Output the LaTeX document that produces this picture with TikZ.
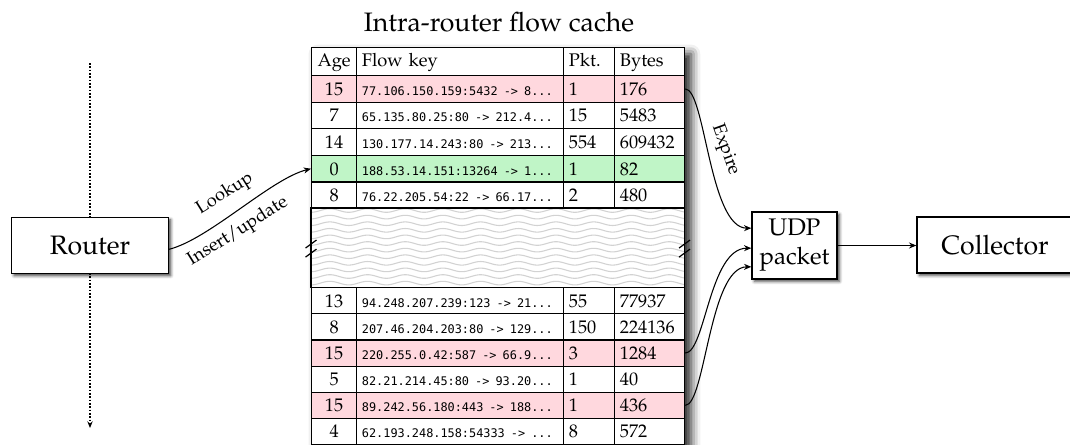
\documentclass[tikz,border=0pt]{standalone}
\usepackage[T1]{fontenc}
\usepackage{mathpazo}
\usetikzlibrary{arrows.meta,shadows.blur}

\definecolor{expiredrow}{RGB}{255,216,222}
\definecolor{hitrow}{RGB}{192,245,199}
\definecolor{wavegray}{RGB}{210,210,210}

% monospaced flow keys: size chosen so that one character is 5.36pt wide
\font\keyprobe="DejaVu Sans Mono" at 10pt
\newlength\keycharwd
\settowidth\keycharwd{\keyprobe 0}
\pgfmathsetmacro\keysize{10*5.36/\keycharwd}
\font\keyfnt="DejaVu Sans Mono" at \keysize pt
\newcommand\titlefont{\fontsize{20}{24}\selectfont}
\newcommand\udpfont{\fontsize{18}{21.75}\selectfont}
\newcommand\cellfont{\fontsize{13.7}{16}\selectfont}
\newcommand\keyfont{\keyfnt}

\tikzset{
  box/.style={draw, line width=1pt, fill=white, inner sep=0pt,
    blur shadow={shadow xshift=1.8pt, shadow yshift=-1.8pt, shadow blur radius=2.2pt, shadow opacity=75}},
  tablebg/.style={fill=white, inner sep=0pt,
    blur shadow={shadow xshift=5pt, shadow yshift=-5pt, shadow blur radius=7pt, shadow opacity=90}},
  conn/.style={line width=0.8pt, -{Stealth[length=5.5pt,width=4.5pt]}},
  flowline/.style={line width=1.2pt, dash pattern=on 1.2pt off 1.3pt, -{Stealth[length=5pt,width=4pt]}},
  tableline/.style={line width=0.9pt},
  breakmark/.style={line width=0.9pt},
  wave/.style={wavegray, line width=0.8pt},
  labeltext/.style={font=\cellfont, inner sep=1pt},
  cell/.style={draw, line width=0.9pt, inner xsep=4pt, inner ysep=0pt,
    text height=9.6pt, text depth=0pt, font=\cellfont},
  headcell/.style={text depth=2.6pt},
  agecell/.style={cell, minimum width=33.75pt, text width=25.75pt, align=center},
  keycell/.style={cell, minimum width=155.25pt, text width=147.25pt, align=left},
  pktcell/.style={cell, minimum width=38.25pt, text width=30.25pt, align=left},
  bytecell/.style={cell, minimum width=52.5pt, text width=44.5pt, align=left},
}

% one cache entry: name, top, height, fill, age, key, packets, bytes
\newcommand\flowrow[8]{%
  \node[agecell, minimum height=#3, fill=#4, anchor=north west] (#1-age) at (311,#2) {#5};
  \node[keycell, minimum height=#3, fill=#4, anchor=north west] (#1-key) at (356,#2) {\mbox{\keyfont #6}};
  \node[pktcell, minimum height=#3, fill=#4, anchor=north west] (#1-pkt) at (563,#2) {#7};
  \node[bytecell, minimum height=#3, fill=#4, anchor=north west] (#1-bytes) at (614,#2) {#8};
}

\begin{document}
\begin{tikzpicture}[x=0.75pt, y=-0.75pt]
\useasboundingbox (0,0) rectangle (1070,444);

% title of the cache
\node[font=\titlefont, anchor=base, inner sep=0pt] (title) at (499,31) {Intra-router flow cache};

% traffic passing through the router
\coordinate (flowtop) at (90,63);
\coordinate (flowbot) at (90,428);
\draw[flowline] (flowtop) -- (flowbot);
\node[box, minimum width=117.5pt, minimum height=42pt, font=\titlefont] (router) at (90,245.3) {Router};

% the cache table
\node[tablebg, minimum width=279.75pt, minimum height=297.75pt, anchor=north west] (cache) at (311,47) {};

\node[agecell, headcell, minimum height=21pt, anchor=north west] (head-age) at (311,47) {Age};
\node[keycell, headcell, minimum height=21pt, anchor=north west] (head-key) at (356,47) {Flow key};
\node[pktcell, headcell, minimum height=21pt, anchor=north west] (head-pkt) at (563,47) {Pkt.};
\node[bytecell, headcell, minimum height=21pt, anchor=north west] (head-bytes) at (614,47) {Bytes};

\flowrow{r1}{75}{19.95pt}{expiredrow}{15}{77.106.150.159:5432 -> 8...}{1}{176}
\flowrow{r2}{101.6}{19.95pt}{white}{7}{65.135.80.25:80 -> 212.4...}{15}{5483}
\flowrow{r3}{128.2}{19.95pt}{white}{14}{130.177.14.243:80 -> 213...}{554}{609432}
\flowrow{r4}{154.8}{19.95pt}{hitrow}{0}{188.53.14.151:13264 -> 1...}{1}{82}
\flowrow{r5}{181.4}{19.95pt}{white}{8}{76.22.205.54:22 -> 66.17...}{2}{480}

% elided part of the table
\node[inner sep=0pt, minimum width=279.75pt, minimum height=59.25pt, anchor=north west] (gap) at (311,208) {};
\begin{scope}
  \clip (gap.north west) rectangle (gap.south east);
  \foreach \k in {0,...,12}
    \draw[wave] plot[domain=300:700, samples=180, smooth] (\x, {210.5 + \k*6.6 + 1.8*sin(\x*9.55)});
\end{scope}
\draw[tableline] (gap.north west) rectangle (gap.south east);

\flowrow{r6}{287}{19.63pt}{white}{13}{94.248.207.239:123 -> 21...}{55}{77937}
\flowrow{r7}{313.17}{19.63pt}{white}{8}{207.46.204.203:80 -> 129...}{150}{224136}
\flowrow{r8}{339.34}{19.63pt}{expiredrow}{15}{220.255.0.42:587 -> 66.9...}{3}{1284}
\flowrow{r9}{365.51}{19.63pt}{white}{5}{82.21.214.45:80 -> 93.20...}{1}{40}
\flowrow{r10}{391.68}{19.63pt}{expiredrow}{15}{89.242.56.180:443 -> 188...}{1}{436}
\flowrow{r11}{417.85}{19.63pt}{white}{4}{62.193.248.158:54333 -> ...}{8}{572}

% break marks on both sides of the elided part
\foreach \s in {2.8pt,-4pt} {
  \draw[breakmark] ([yshift=\s]gap.west) +(-4.1pt,-3pt) -- +(4.1pt,3pt);
  \draw[breakmark] ([yshift=\s]gap.east) +(-4.1pt,-3pt) -- +(4.1pt,3pt);
}

% export side
\node[box, minimum width=63.75pt, minimum height=50.25pt, font=\udpfont, align=center] (udp) at (794.5,245.5) {UDP\\packet};
\node[box, minimum width=117pt, minimum height=42pt, font=\titlefont] (collector) at (995,245) {Collector};

% lookup / update of the matching entry
\draw[conn] ([yshift=-3pt]router.east) .. controls +(40,-10) and +(-40,10) .. (r4-age.west);
\node[labeltext, rotate=32] (lookup) at (225,194) {Lookup};
\node[labeltext, rotate=32] (insert) at (238,232) {Insert/update};

% expired entries go into the export packet
\draw[conn] (r1-bytes.east) .. controls +(20,0) and +(-42,0) .. ([yshift=13pt]udp.west);
\node[labeltext, rotate=-70] (expire) at (725,150) {Expire};
\draw[conn] (r8-bytes.east) .. controls +(20,0) and +(-42,0) .. ([yshift=-2pt]udp.west);
\draw[conn] (r10-bytes.east) .. controls +(20,0) and +(-42,0) .. ([yshift=-16pt]udp.west);

\draw[conn] (udp.east) -- (udp.east -| collector.west);
\end{tikzpicture}
\end{document}
